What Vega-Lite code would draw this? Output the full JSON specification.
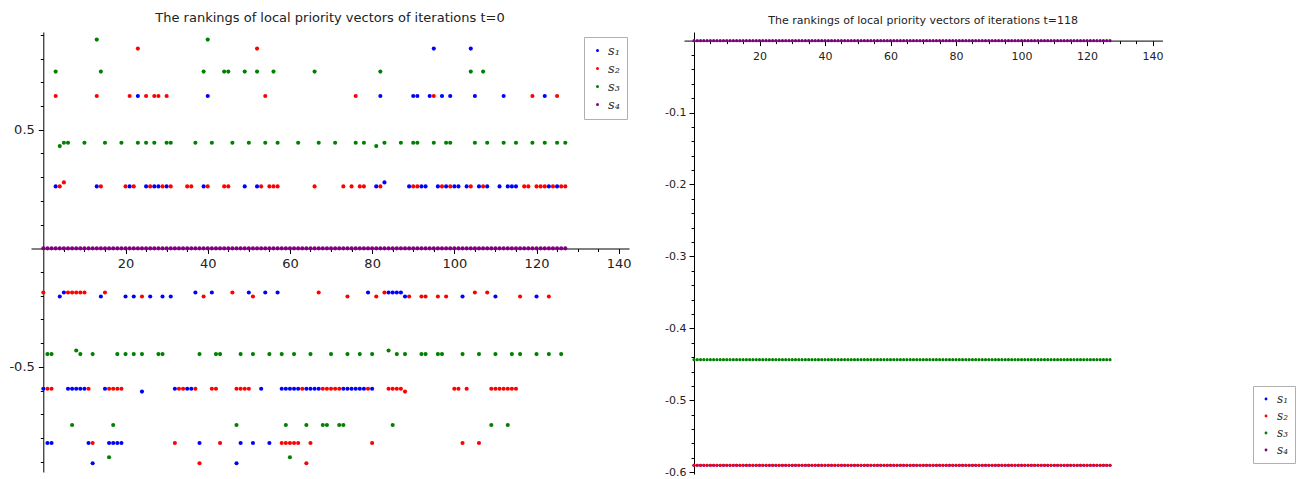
{
  "$schema": "https://vega.github.io/schema/vega-lite/v6.json",
  "padding": {"left": 8, "top": 12, "right": 0, "bottom": 0},
  "bounds": "flush",
  "spacing": 55,
  "config": {
    "view": {"stroke": null},
    "font": "DejaVu Sans",
    "axis": {"domainColor": "#000", "tickColor": "#000", "labelColor": "#222", "labelFont": "DejaVu Sans", "grid": false, "title": null, "domainWidth": 1, "tickWidth": 1},
    "title": {"font": "DejaVu Sans", "fontWeight": "normal", "color": "#222", "anchor": "middle"}
  },
  "resolve": {"legend": {"color": "independent"}, "scale": {"color": "independent"}},
  "datasets": {
    "t0": [
      {"t":0,"s1":-0.592,"s2":-0.186,"s3":null,"s4":0},
      {"t":1,"s1":-0.821,"s2":-0.592,"s3":-0.446,"s4":0},
      {"t":2,"s1":-0.821,"s2":-0.592,"s3":-0.446,"s4":0},
      {"t":3,"s1":0.261,"s2":0.642,"s3":0.745,"s4":0},
      {"t":4,"s1":-0.203,"s2":0.261,"s3":0.431,"s4":0},
      {"t":5,"s1":-0.186,"s2":0.278,"s3":0.445,"s4":0},
      {"t":6,"s1":-0.592,"s2":-0.186,"s3":0.445,"s4":0},
      {"t":7,"s1":-0.592,"s2":-0.186,"s3":-0.745,"s4":0},
      {"t":8,"s1":-0.592,"s2":-0.186,"s3":-0.431,"s4":0},
      {"t":9,"s1":-0.592,"s2":-0.186,"s3":-0.446,"s4":0},
      {"t":10,"s1":-0.592,"s2":-0.186,"s3":0.445,"s4":0},
      {"t":11,"s1":-0.821,"s2":-0.592,"s3":null,"s4":0},
      {"t":12,"s1":-0.906,"s2":-0.821,"s3":-0.446,"s4":0},
      {"t":13,"s1":0.261,"s2":0.642,"s3":0.88,"s4":0},
      {"t":14,"s1":-0.203,"s2":0.261,"s3":0.745,"s4":0},
      {"t":15,"s1":-0.592,"s2":-0.186,"s3":0.445,"s4":0},
      {"t":16,"s1":-0.821,"s2":-0.592,"s3":-0.881,"s4":0},
      {"t":17,"s1":-0.821,"s2":-0.592,"s3":-0.745,"s4":0},
      {"t":18,"s1":-0.821,"s2":-0.592,"s3":-0.446,"s4":0},
      {"t":19,"s1":-0.821,"s2":-0.592,"s3":0.445,"s4":0},
      {"t":20,"s1":-0.203,"s2":0.261,"s3":-0.446,"s4":0},
      {"t":21,"s1":0.261,"s2":0.642,"s3":null,"s4":0},
      {"t":22,"s1":-0.203,"s2":0.261,"s3":-0.446,"s4":0},
      {"t":23,"s1":0.642,"s2":0.842,"s3":0.445,"s4":0},
      {"t":24,"s1":-0.604,"s2":-0.203,"s3":-0.446,"s4":0},
      {"t":25,"s1":0.261,"s2":0.642,"s3":0.445,"s4":0},
      {"t":26,"s1":-0.203,"s2":0.261,"s3":null,"s4":0},
      {"t":27,"s1":0.261,"s2":0.642,"s3":0.445,"s4":0},
      {"t":28,"s1":0.261,"s2":0.642,"s3":-0.446,"s4":0},
      {"t":29,"s1":-0.203,"s2":0.261,"s3":-0.446,"s4":0},
      {"t":30,"s1":0.261,"s2":0.642,"s3":0.445,"s4":0},
      {"t":31,"s1":-0.203,"s2":0.261,"s3":0.445,"s4":0},
      {"t":32,"s1":-0.592,"s2":-0.821,"s3":null,"s4":0},
      {"t":33,"s1":null,"s2":-0.592,"s3":null,"s4":0},
      {"t":34,"s1":null,"s2":-0.592,"s3":null,"s4":0},
      {"t":35,"s1":-0.592,"s2":0.261,"s3":null,"s4":0},
      {"t":36,"s1":-0.592,"s2":0.261,"s3":null,"s4":0},
      {"t":37,"s1":-0.186,"s2":-0.592,"s3":0.445,"s4":0},
      {"t":38,"s1":-0.821,"s2":-0.906,"s3":-0.446,"s4":0},
      {"t":39,"s1":0.261,"s2":-0.203,"s3":0.745,"s4":0},
      {"t":40,"s1":0.642,"s2":0.261,"s3":0.88,"s4":0},
      {"t":41,"s1":-0.186,"s2":-0.592,"s3":0.445,"s4":0},
      {"t":42,"s1":null,"s2":-0.592,"s3":-0.446,"s4":0},
      {"t":43,"s1":null,"s2":-0.821,"s3":-0.446,"s4":0},
      {"t":44,"s1":null,"s2":0.261,"s3":0.745,"s4":0},
      {"t":45,"s1":null,"s2":0.261,"s3":0.745,"s4":0},
      {"t":46,"s1":null,"s2":-0.186,"s3":0.445,"s4":0},
      {"t":47,"s1":-0.906,"s2":-0.592,"s3":-0.745,"s4":0},
      {"t":48,"s1":-0.821,"s2":-0.592,"s3":-0.446,"s4":0},
      {"t":49,"s1":0.261,"s2":-0.592,"s3":0.745,"s4":0},
      {"t":50,"s1":-0.186,"s2":-0.592,"s3":0.445,"s4":0},
      {"t":51,"s1":-0.821,"s2":-0.203,"s3":-0.446,"s4":0},
      {"t":52,"s1":0.261,"s2":0.842,"s3":0.745,"s4":0},
      {"t":53,"s1":-0.592,"s2":0.261,"s3":null,"s4":0},
      {"t":54,"s1":-0.186,"s2":0.642,"s3":0.445,"s4":0},
      {"t":55,"s1":-0.821,"s2":0.261,"s3":-0.446,"s4":0},
      {"t":56,"s1":null,"s2":0.261,"s3":0.745,"s4":0},
      {"t":57,"s1":-0.186,"s2":0.261,"s3":0.445,"s4":0},
      {"t":58,"s1":-0.592,"s2":-0.821,"s3":-0.446,"s4":0},
      {"t":59,"s1":-0.592,"s2":-0.821,"s3":-0.745,"s4":0},
      {"t":60,"s1":-0.592,"s2":-0.821,"s3":-0.881,"s4":0},
      {"t":61,"s1":-0.592,"s2":-0.821,"s3":-0.446,"s4":0},
      {"t":62,"s1":-0.592,"s2":-0.821,"s3":0.445,"s4":0},
      {"t":63,"s1":null,"s2":-0.592,"s3":null,"s4":0},
      {"t":64,"s1":-0.592,"s2":-0.906,"s3":-0.745,"s4":0},
      {"t":65,"s1":-0.592,"s2":-0.821,"s3":-0.446,"s4":0},
      {"t":66,"s1":-0.592,"s2":0.261,"s3":0.745,"s4":0},
      {"t":67,"s1":-0.592,"s2":-0.186,"s3":0.445,"s4":0},
      {"t":68,"s1":null,"s2":-0.592,"s3":-0.745,"s4":0},
      {"t":69,"s1":null,"s2":-0.592,"s3":-0.745,"s4":0},
      {"t":70,"s1":null,"s2":-0.592,"s3":-0.446,"s4":0},
      {"t":71,"s1":null,"s2":-0.592,"s3":0.445,"s4":0},
      {"t":72,"s1":null,"s2":-0.592,"s3":-0.745,"s4":0},
      {"t":73,"s1":-0.592,"s2":0.261,"s3":-0.745,"s4":0},
      {"t":74,"s1":-0.592,"s2":-0.203,"s3":-0.446,"s4":0},
      {"t":75,"s1":-0.592,"s2":0.261,"s3":null,"s4":0},
      {"t":76,"s1":-0.592,"s2":0.642,"s3":0.445,"s4":0},
      {"t":77,"s1":-0.592,"s2":0.261,"s3":-0.446,"s4":0},
      {"t":78,"s1":-0.592,"s2":0.261,"s3":0.445,"s4":0},
      {"t":79,"s1":-0.186,"s2":-0.592,"s3":null,"s4":0},
      {"t":80,"s1":-0.592,"s2":-0.821,"s3":-0.446,"s4":0},
      {"t":81,"s1":0.261,"s2":-0.203,"s3":0.431,"s4":0},
      {"t":82,"s1":0.642,"s2":0.261,"s3":0.745,"s4":0},
      {"t":83,"s1":0.278,"s2":-0.186,"s3":0.445,"s4":0},
      {"t":84,"s1":-0.186,"s2":-0.592,"s3":-0.431,"s4":0},
      {"t":85,"s1":-0.186,"s2":-0.592,"s3":-0.745,"s4":0},
      {"t":86,"s1":-0.186,"s2":-0.592,"s3":-0.446,"s4":0},
      {"t":87,"s1":-0.186,"s2":-0.592,"s3":0.445,"s4":0},
      {"t":88,"s1":-0.203,"s2":-0.604,"s3":-0.446,"s4":0},
      {"t":89,"s1":0.261,"s2":-0.203,"s3":null,"s4":0},
      {"t":90,"s1":0.642,"s2":0.261,"s3":0.445,"s4":0},
      {"t":91,"s1":0.642,"s2":0.261,"s3":0.445,"s4":0},
      {"t":92,"s1":0.261,"s2":-0.203,"s3":-0.446,"s4":0},
      {"t":93,"s1":0.261,"s2":-0.203,"s3":-0.446,"s4":0},
      {"t":94,"s1":0.642,"s2":null,"s3":null,"s4":0},
      {"t":95,"s1":0.842,"s2":0.642,"s3":0.445,"s4":0},
      {"t":96,"s1":0.261,"s2":-0.203,"s3":-0.446,"s4":0},
      {"t":97,"s1":0.642,"s2":0.261,"s3":-0.446,"s4":0},
      {"t":98,"s1":0.261,"s2":-0.203,"s3":0.445,"s4":0},
      {"t":99,"s1":0.642,"s2":0.261,"s3":0.445,"s4":0},
      {"t":100,"s1":0.261,"s2":-0.592,"s3":null,"s4":0},
      {"t":101,"s1":0.261,"s2":-0.592,"s3":null,"s4":0},
      {"t":102,"s1":-0.203,"s2":-0.821,"s3":-0.446,"s4":0},
      {"t":103,"s1":0.261,"s2":-0.592,"s3":null,"s4":0},
      {"t":104,"s1":0.842,"s2":0.261,"s3":0.745,"s4":0},
      {"t":105,"s1":0.642,"s2":-0.186,"s3":0.445,"s4":0},
      {"t":106,"s1":0.261,"s2":-0.821,"s3":-0.446,"s4":0},
      {"t":107,"s1":null,"s2":0.261,"s3":0.745,"s4":0},
      {"t":108,"s1":0.261,"s2":-0.186,"s3":0.445,"s4":0},
      {"t":109,"s1":null,"s2":-0.592,"s3":-0.745,"s4":0},
      {"t":110,"s1":-0.203,"s2":-0.592,"s3":-0.446,"s4":0},
      {"t":111,"s1":0.261,"s2":-0.592,"s3":null,"s4":0},
      {"t":112,"s1":0.642,"s2":-0.592,"s3":0.445,"s4":0},
      {"t":113,"s1":0.261,"s2":-0.592,"s3":-0.745,"s4":0},
      {"t":114,"s1":0.261,"s2":-0.592,"s3":-0.446,"s4":0},
      {"t":115,"s1":0.261,"s2":-0.592,"s3":0.445,"s4":0},
      {"t":116,"s1":null,"s2":-0.203,"s3":-0.446,"s4":0},
      {"t":117,"s1":null,"s2":0.261,"s3":null,"s4":0},
      {"t":118,"s1":null,"s2":0.261,"s3":null,"s4":0},
      {"t":119,"s1":null,"s2":0.642,"s3":0.445,"s4":0},
      {"t":120,"s1":-0.203,"s2":0.261,"s3":-0.446,"s4":0},
      {"t":121,"s1":null,"s2":0.261,"s3":null,"s4":0},
      {"t":122,"s1":0.642,"s2":0.261,"s3":0.445,"s4":0},
      {"t":123,"s1":0.261,"s2":-0.203,"s3":-0.446,"s4":0},
      {"t":124,"s1":null,"s2":0.261,"s3":null,"s4":0},
      {"t":125,"s1":0.261,"s2":0.642,"s3":0.445,"s4":0},
      {"t":126,"s1":null,"s2":0.261,"s3":-0.446,"s4":0},
      {"t":127,"s1":null,"s2":0.261,"s3":0.445,"s4":0}
    ],
    "t118": [
      {"t":0,"s1":-0.5903,"s2":-0.5903,"s3":-0.4435,"s4":0},{"t":1,"s1":-0.5903,"s2":-0.5903,"s3":-0.4435,"s4":0},{"t":2,"s1":-0.5903,"s2":-0.5903,"s3":-0.4435,"s4":0},{"t":3,"s1":-0.5903,"s2":-0.5903,"s3":-0.4435,"s4":0},
      {"t":4,"s1":-0.5903,"s2":-0.5903,"s3":-0.4435,"s4":0},{"t":5,"s1":-0.5903,"s2":-0.5903,"s3":-0.4435,"s4":0},{"t":6,"s1":-0.5903,"s2":-0.5903,"s3":-0.4435,"s4":0},{"t":7,"s1":-0.5903,"s2":-0.5903,"s3":-0.4435,"s4":0},
      {"t":8,"s1":-0.5903,"s2":-0.5903,"s3":-0.4435,"s4":0},{"t":9,"s1":-0.5903,"s2":-0.5903,"s3":-0.4435,"s4":0},{"t":10,"s1":-0.5903,"s2":-0.5903,"s3":-0.4435,"s4":0},{"t":11,"s1":-0.5903,"s2":-0.5903,"s3":-0.4435,"s4":0},
      {"t":12,"s1":-0.5903,"s2":-0.5903,"s3":-0.4435,"s4":0},{"t":13,"s1":-0.5903,"s2":-0.5903,"s3":-0.4435,"s4":0},{"t":14,"s1":-0.5903,"s2":-0.5903,"s3":-0.4435,"s4":0},{"t":15,"s1":-0.5903,"s2":-0.5903,"s3":-0.4435,"s4":0},
      {"t":16,"s1":-0.5903,"s2":-0.5903,"s3":-0.4435,"s4":0},{"t":17,"s1":-0.5903,"s2":-0.5903,"s3":-0.4435,"s4":0},{"t":18,"s1":-0.5903,"s2":-0.5903,"s3":-0.4435,"s4":0},{"t":19,"s1":-0.5903,"s2":-0.5903,"s3":-0.4435,"s4":0},
      {"t":20,"s1":-0.5903,"s2":-0.5903,"s3":-0.4435,"s4":0},{"t":21,"s1":-0.5903,"s2":-0.5903,"s3":-0.4435,"s4":0},{"t":22,"s1":-0.5903,"s2":-0.5903,"s3":-0.4435,"s4":0},{"t":23,"s1":-0.5903,"s2":-0.5903,"s3":-0.4435,"s4":0},
      {"t":24,"s1":-0.5903,"s2":-0.5903,"s3":-0.4435,"s4":0},{"t":25,"s1":-0.5903,"s2":-0.5903,"s3":-0.4435,"s4":0},{"t":26,"s1":-0.5903,"s2":-0.5903,"s3":-0.4435,"s4":0},{"t":27,"s1":-0.5903,"s2":-0.5903,"s3":-0.4435,"s4":0},
      {"t":28,"s1":-0.5903,"s2":-0.5903,"s3":-0.4435,"s4":0},{"t":29,"s1":-0.5903,"s2":-0.5903,"s3":-0.4435,"s4":0},{"t":30,"s1":-0.5903,"s2":-0.5903,"s3":-0.4435,"s4":0},{"t":31,"s1":-0.5903,"s2":-0.5903,"s3":-0.4435,"s4":0},
      {"t":32,"s1":-0.5903,"s2":-0.5903,"s3":-0.4435,"s4":0},{"t":33,"s1":-0.5903,"s2":-0.5903,"s3":-0.4435,"s4":0},{"t":34,"s1":-0.5903,"s2":-0.5903,"s3":-0.4435,"s4":0},{"t":35,"s1":-0.5903,"s2":-0.5903,"s3":-0.4435,"s4":0},
      {"t":36,"s1":-0.5903,"s2":-0.5903,"s3":-0.4435,"s4":0},{"t":37,"s1":-0.5903,"s2":-0.5903,"s3":-0.4435,"s4":0},{"t":38,"s1":-0.5903,"s2":-0.5903,"s3":-0.4435,"s4":0},{"t":39,"s1":-0.5903,"s2":-0.5903,"s3":-0.4435,"s4":0},
      {"t":40,"s1":-0.5903,"s2":-0.5903,"s3":-0.4435,"s4":0},{"t":41,"s1":-0.5903,"s2":-0.5903,"s3":-0.4435,"s4":0},{"t":42,"s1":-0.5903,"s2":-0.5903,"s3":-0.4435,"s4":0},{"t":43,"s1":-0.5903,"s2":-0.5903,"s3":-0.4435,"s4":0},
      {"t":44,"s1":-0.5903,"s2":-0.5903,"s3":-0.4435,"s4":0},{"t":45,"s1":-0.5903,"s2":-0.5903,"s3":-0.4435,"s4":0},{"t":46,"s1":-0.5903,"s2":-0.5903,"s3":-0.4435,"s4":0},{"t":47,"s1":-0.5903,"s2":-0.5903,"s3":-0.4435,"s4":0},
      {"t":48,"s1":-0.5903,"s2":-0.5903,"s3":-0.4435,"s4":0},{"t":49,"s1":-0.5903,"s2":-0.5903,"s3":-0.4435,"s4":0},{"t":50,"s1":-0.5903,"s2":-0.5903,"s3":-0.4435,"s4":0},{"t":51,"s1":-0.5903,"s2":-0.5903,"s3":-0.4435,"s4":0},
      {"t":52,"s1":-0.5903,"s2":-0.5903,"s3":-0.4435,"s4":0},{"t":53,"s1":-0.5903,"s2":-0.5903,"s3":-0.4435,"s4":0},{"t":54,"s1":-0.5903,"s2":-0.5903,"s3":-0.4435,"s4":0},{"t":55,"s1":-0.5903,"s2":-0.5903,"s3":-0.4435,"s4":0},
      {"t":56,"s1":-0.5903,"s2":-0.5903,"s3":-0.4435,"s4":0},{"t":57,"s1":-0.5903,"s2":-0.5903,"s3":-0.4435,"s4":0},{"t":58,"s1":-0.5903,"s2":-0.5903,"s3":-0.4435,"s4":0},{"t":59,"s1":-0.5903,"s2":-0.5903,"s3":-0.4435,"s4":0},
      {"t":60,"s1":-0.5903,"s2":-0.5903,"s3":-0.4435,"s4":0},{"t":61,"s1":-0.5903,"s2":-0.5903,"s3":-0.4435,"s4":0},{"t":62,"s1":-0.5903,"s2":-0.5903,"s3":-0.4435,"s4":0},{"t":63,"s1":-0.5903,"s2":-0.5903,"s3":-0.4435,"s4":0},
      {"t":64,"s1":-0.5903,"s2":-0.5903,"s3":-0.4435,"s4":0},{"t":65,"s1":-0.5903,"s2":-0.5903,"s3":-0.4435,"s4":0},{"t":66,"s1":-0.5903,"s2":-0.5903,"s3":-0.4435,"s4":0},{"t":67,"s1":-0.5903,"s2":-0.5903,"s3":-0.4435,"s4":0},
      {"t":68,"s1":-0.5903,"s2":-0.5903,"s3":-0.4435,"s4":0},{"t":69,"s1":-0.5903,"s2":-0.5903,"s3":-0.4435,"s4":0},{"t":70,"s1":-0.5903,"s2":-0.5903,"s3":-0.4435,"s4":0},{"t":71,"s1":-0.5903,"s2":-0.5903,"s3":-0.4435,"s4":0},
      {"t":72,"s1":-0.5903,"s2":-0.5903,"s3":-0.4435,"s4":0},{"t":73,"s1":-0.5903,"s2":-0.5903,"s3":-0.4435,"s4":0},{"t":74,"s1":-0.5903,"s2":-0.5903,"s3":-0.4435,"s4":0},{"t":75,"s1":-0.5903,"s2":-0.5903,"s3":-0.4435,"s4":0},
      {"t":76,"s1":-0.5903,"s2":-0.5903,"s3":-0.4435,"s4":0},{"t":77,"s1":-0.5903,"s2":-0.5903,"s3":-0.4435,"s4":0},{"t":78,"s1":-0.5903,"s2":-0.5903,"s3":-0.4435,"s4":0},{"t":79,"s1":-0.5903,"s2":-0.5903,"s3":-0.4435,"s4":0},
      {"t":80,"s1":-0.5903,"s2":-0.5903,"s3":-0.4435,"s4":0},{"t":81,"s1":-0.5903,"s2":-0.5903,"s3":-0.4435,"s4":0},{"t":82,"s1":-0.5903,"s2":-0.5903,"s3":-0.4435,"s4":0},{"t":83,"s1":-0.5903,"s2":-0.5903,"s3":-0.4435,"s4":0},
      {"t":84,"s1":-0.5903,"s2":-0.5903,"s3":-0.4435,"s4":0},{"t":85,"s1":-0.5903,"s2":-0.5903,"s3":-0.4435,"s4":0},{"t":86,"s1":-0.5903,"s2":-0.5903,"s3":-0.4435,"s4":0},{"t":87,"s1":-0.5903,"s2":-0.5903,"s3":-0.4435,"s4":0},
      {"t":88,"s1":-0.5903,"s2":-0.5903,"s3":-0.4435,"s4":0},{"t":89,"s1":-0.5903,"s2":-0.5903,"s3":-0.4435,"s4":0},{"t":90,"s1":-0.5903,"s2":-0.5903,"s3":-0.4435,"s4":0},{"t":91,"s1":-0.5903,"s2":-0.5903,"s3":-0.4435,"s4":0},
      {"t":92,"s1":-0.5903,"s2":-0.5903,"s3":-0.4435,"s4":0},{"t":93,"s1":-0.5903,"s2":-0.5903,"s3":-0.4435,"s4":0},{"t":94,"s1":-0.5903,"s2":-0.5903,"s3":-0.4435,"s4":0},{"t":95,"s1":-0.5903,"s2":-0.5903,"s3":-0.4435,"s4":0},
      {"t":96,"s1":-0.5903,"s2":-0.5903,"s3":-0.4435,"s4":0},{"t":97,"s1":-0.5903,"s2":-0.5903,"s3":-0.4435,"s4":0},{"t":98,"s1":-0.5903,"s2":-0.5903,"s3":-0.4435,"s4":0},{"t":99,"s1":-0.5903,"s2":-0.5903,"s3":-0.4435,"s4":0},
      {"t":100,"s1":-0.5903,"s2":-0.5903,"s3":-0.4435,"s4":0},{"t":101,"s1":-0.5903,"s2":-0.5903,"s3":-0.4435,"s4":0},{"t":102,"s1":-0.5903,"s2":-0.5903,"s3":-0.4435,"s4":0},{"t":103,"s1":-0.5903,"s2":-0.5903,"s3":-0.4435,"s4":0},
      {"t":104,"s1":-0.5903,"s2":-0.5903,"s3":-0.4435,"s4":0},{"t":105,"s1":-0.5903,"s2":-0.5903,"s3":-0.4435,"s4":0},{"t":106,"s1":-0.5903,"s2":-0.5903,"s3":-0.4435,"s4":0},{"t":107,"s1":-0.5903,"s2":-0.5903,"s3":-0.4435,"s4":0},
      {"t":108,"s1":-0.5903,"s2":-0.5903,"s3":-0.4435,"s4":0},{"t":109,"s1":-0.5903,"s2":-0.5903,"s3":-0.4435,"s4":0},{"t":110,"s1":-0.5903,"s2":-0.5903,"s3":-0.4435,"s4":0},{"t":111,"s1":-0.5903,"s2":-0.5903,"s3":-0.4435,"s4":0},
      {"t":112,"s1":-0.5903,"s2":-0.5903,"s3":-0.4435,"s4":0},{"t":113,"s1":-0.5903,"s2":-0.5903,"s3":-0.4435,"s4":0},{"t":114,"s1":-0.5903,"s2":-0.5903,"s3":-0.4435,"s4":0},{"t":115,"s1":-0.5903,"s2":-0.5903,"s3":-0.4435,"s4":0},
      {"t":116,"s1":-0.5903,"s2":-0.5903,"s3":-0.4435,"s4":0},{"t":117,"s1":-0.5903,"s2":-0.5903,"s3":-0.4435,"s4":0},{"t":118,"s1":-0.5903,"s2":-0.5903,"s3":-0.4435,"s4":0},{"t":119,"s1":-0.5903,"s2":-0.5903,"s3":-0.4435,"s4":0},
      {"t":120,"s1":-0.5903,"s2":-0.5903,"s3":-0.4435,"s4":0},{"t":121,"s1":-0.5903,"s2":-0.5903,"s3":-0.4435,"s4":0},{"t":122,"s1":-0.5903,"s2":-0.5903,"s3":-0.4435,"s4":0},{"t":123,"s1":-0.5903,"s2":-0.5903,"s3":-0.4435,"s4":0},
      {"t":124,"s1":-0.5903,"s2":-0.5903,"s3":-0.4435,"s4":0},{"t":125,"s1":-0.5903,"s2":-0.5903,"s3":-0.4435,"s4":0},{"t":126,"s1":-0.5903,"s2":-0.5903,"s3":-0.4435,"s4":0},{"t":127,"s1":-0.5903,"s2":-0.5903,"s3":-0.4435,"s4":0}
    ]
  },
  "hconcat": [
    {
      "width": 598,
      "height": 440,
      "title": {"text": "The rankings of local priority vectors of iterations t=0", "fontSize": 13, "offset": 7},
      "data": {"name": "t0"},
      "transform": [{"fold": ["s1", "s2", "s3", "s4"], "as": ["series", "value"]}],
      "resolve": {"axis": {"x": "independent", "y": "independent"}},
      "layer": [
        {
          "mark": {"type": "point", "filled": true, "size": 16, "opacity": 0},
          "encoding": {
            "x": {"field": "t", "type": "quantitative", "scale": {"domain": [-3, 142.5], "nice": false, "zero": false},
                  "axis": {"orient": "bottom", "values": [5,10,15,25,30,35,45,50,55,65,70,75,85,90,95,105,110,115,125,130,135], "labels": false, "offset": -223.5, "tickSize": 3, "domain": false}},
            "y": {"field": "value", "type": "quantitative", "scale": {"domain": [-0.943, 0.912], "nice": false, "zero": false},
                  "axis": {"orient": "left", "values": [-0.9,-0.8,-0.7,-0.6,-0.4,-0.3,-0.2,-0.1,0.1,0.2,0.3,0.4,0.6,0.7,0.8,0.9], "labels": false, "offset": -12.3, "tickSize": 3, "domain": false}}
          }
        },
        {
          "mark": {"type": "point", "filled": true, "size": 17, "opacity": 1},
          "encoding": {
            "x": {"field": "t", "type": "quantitative", "scale": {"domain": [-3, 142.5], "nice": false, "zero": false},
                  "axis": {"orient": "bottom", "values": [20,40,60,80,100,120,140], "offset": -223.5, "tickSize": 5, "labelFontSize": 13, "labelPadding": 4}},
            "y": {"field": "value", "type": "quantitative", "scale": {"domain": [-0.943, 0.912], "nice": false, "zero": false},
                  "axis": {"orient": "left", "values": [-0.5, 0.5], "offset": -12.3, "tickSize": 5, "labelFontSize": 13, "labelPadding": 4,
                           "labelExpr": "datum.value < 0 ? '-' + format(-datum.value, '.1f') : format(datum.value, '.1f')"}},
            "color": {"field": "series", "type": "nominal",
                      "scale": {"domain": ["s1", "s2", "s3", "s4"], "range": ["#0000ff", "#ff0000", "#008000", "#800080"]},
                      "legend": {"orient": "none", "legendX": 553, "legendY": 5, "title": null, "fillColor": "white", "strokeColor": "#b0b0b0",
                                 "padding": 7, "symbolType": "circle", "symbolSize": 9, "symbolStrokeWidth": 0,
                                 "labelFont": "DejaVu Serif", "labelFontStyle": "italic", "labelFontSize": 13, "labelColor": "#333", "rowPadding": 4, "labelOffset": 4,
                                 "labelExpr": "datum.label == 's1' ? 's₁' : datum.label == 's2' ? 's₂' : datum.label == 's3' ? 's₃' : 's₄'"}},
            "order": {"field": "series", "type": "ordinal"}
          }
        }
      ]
    },
    {
      "width": 478.4,
      "height": 442,
      "title": {"text": "The rankings of local priority vectors of iterations t=118", "fontSize": 11, "offset": 6},
      "data": {"name": "t118"},
      "transform": [{"fold": ["s1", "s2", "s3", "s4"], "as": ["series", "value"]}],
      "resolve": {"axis": {"x": "independent", "y": "independent"}},
      "layer": [
        {
          "mark": {"type": "point", "filled": true, "size": 10, "opacity": 0},
          "encoding": {
            "x": {"field": "t", "type": "quantitative", "scale": {"domain": [-3.05, 143], "nice": false, "zero": false},
                  "axis": {"orient": "bottom", "values": [5,10,15,25,30,35,45,50,55,65,70,75,85,90,95,105,110,115,125,130,135], "labels": false, "offset": -433.4, "tickSize": 3, "domain": false}},
            "y": {"field": "value", "type": "quantitative", "scale": {"domain": [-0.6025, 0.012], "nice": false, "zero": false},
                  "axis": {"orient": "left", "values": [-0.58,-0.56,-0.54,-0.52,-0.48,-0.46,-0.44,-0.42,-0.38,-0.36,-0.34,-0.32,-0.28,-0.26,-0.24,-0.22,-0.18,-0.16,-0.14,-0.12,-0.08,-0.06,-0.04,-0.02], "labels": false, "offset": -10, "tickSize": 3, "domain": false}}
          }
        },
        {
          "mark": {"type": "point", "filled": true, "size": 10, "opacity": 1},
          "encoding": {
            "x": {"field": "t", "type": "quantitative", "scale": {"domain": [-3.05, 143], "nice": false, "zero": false},
                  "axis": {"orient": "bottom", "values": [20,40,60,80,100,120,140], "offset": -433.4, "tickSize": 5, "labelFontSize": 11, "labelPadding": 5}},
            "y": {"field": "value", "type": "quantitative", "scale": {"domain": [-0.6025, 0.012], "nice": false, "zero": false},
                  "axis": {"orient": "left", "values": [-0.6,-0.5,-0.4,-0.3,-0.2,-0.1], "offset": -10, "tickSize": 5, "labelFontSize": 11, "labelPadding": 3,
                           "labelExpr": "datum.value < 0 ? '-' + format(-datum.value, '.1f') : format(datum.value, '.1f')"}},
            "color": {"field": "series", "type": "nominal",
                      "scale": {"domain": ["s1", "s2", "s3", "s4"], "range": ["#0000ff", "#ff0000", "#008000", "#800080"]},
                      "legend": {"orient": "none", "legendX": 569, "legendY": 354, "title": null, "fillColor": "white", "strokeColor": "#b0b0b0",
                                 "padding": 7, "symbolType": "circle", "symbolSize": 8, "symbolStrokeWidth": 0,
                                 "labelFont": "DejaVu Serif", "labelFontStyle": "italic", "labelFontSize": 12, "labelColor": "#333", "rowPadding": 5, "labelOffset": 5,
                                 "labelExpr": "datum.label == 's1' ? 's₁' : datum.label == 's2' ? 's₂' : datum.label == 's3' ? 's₃' : 's₄'"}},
            "order": {"field": "series", "type": "ordinal"}
          }
        }
      ]
    }
  ]
}
